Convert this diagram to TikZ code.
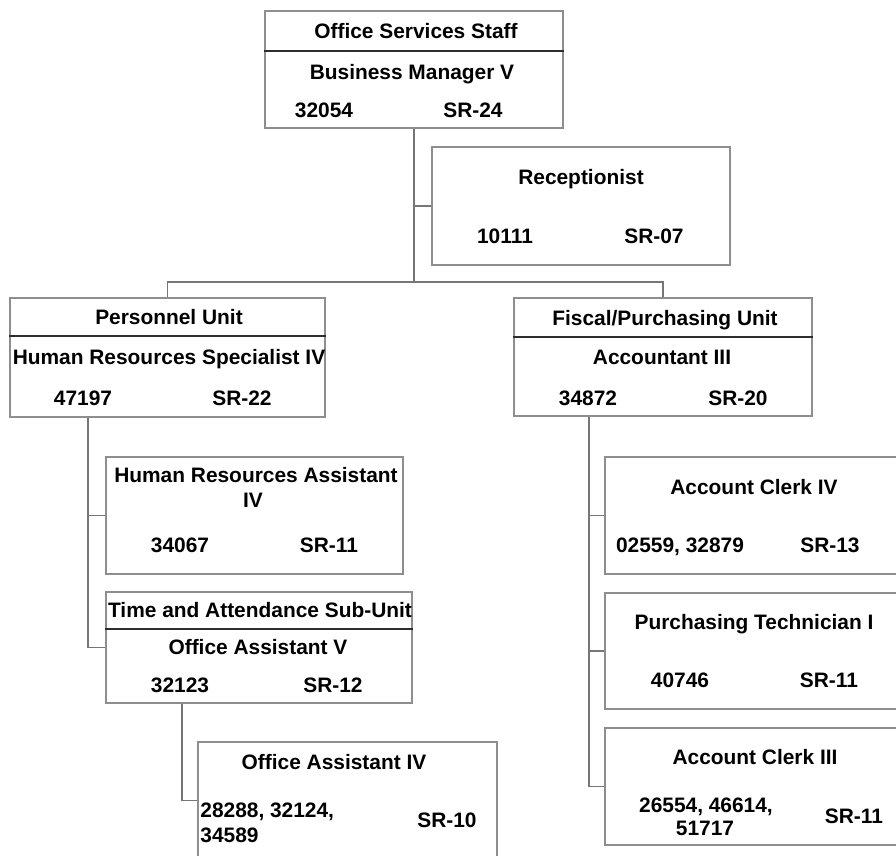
\documentclass[tikz,border=0pt]{standalone}
\usepackage{fontspec}
\setmainfont{Liberation Sans}
\definecolor{box-gray}{HTML}{8E8E8E}
\definecolor{link-gray}{HTML}{767676}
\definecolor{head-dark}{HTML}{2E2E2E}

\begin{document}
\begin{tikzpicture}[x=0.5pt,y=-0.5pt,
		font=\fontsize{10.45}{12.5}\selectfont\bfseries,
		posbox/.style={draw=box-gray,line width=0.6pt,inner sep=0pt,fill=white},
		txt/.style={anchor=base,inner sep=0pt},
		txtl/.style={anchor=base west,inner sep=0pt},
		link/.style={draw=link-gray,line width=0.6pt},
		headline/.style={draw=head-dark,line width=1pt}]
		
		\useasboundingbox (0,0) rectangle (896,856);
		
		%--- BOXES -------------------------------
		
		% Office Services Staff
		\node [posbox,minimum width=149pt,minimum height=58.5pt] (bm) at (414,69.5) {};
		\draw [headline] (bm.west |- 0,51) -- (bm.east |- 0,51);
		
		% Receptionist
		\node [posbox,minimum width=149pt,minimum height=59pt] (rec) at (581,206) {};
		
		% Units
		\node [posbox,minimum width=157.5pt,minimum height=59.5pt] (pers) at (167.5,357.5) {};
		\draw [headline] (pers.west |- 0,336) -- (pers.east |- 0,336);
		\node [posbox,minimum width=149pt,minimum height=59pt] (fisc) at (663,357) {};
		\draw [headline] (fisc.west |- 0,337) -- (fisc.east |- 0,337);
		
		% Personnel side
		\node [posbox,minimum width=148.5pt,minimum height=58.5pt] (hra) at (254.5,515.5) {};
		\node [posbox,minimum width=153pt,minimum height=55.5pt] (tas) at (259,647.5) {};
		\draw [headline] (tas.west |- 0,629) -- (tas.east |- 0,629);
		\node [posbox,minimum width=149.5pt,minimum height=58.5pt] (oa4) at (347.5,800.5) {};
		
		% Fiscal side (cut at the right edge)
		\foreach \nm/\cy/\h in {acl4/515.5/58.5, ptech/651/58, acl3/786.5/58.5}{
			\node [posbox,minimum width=149pt,minimum height=\h pt] (\nm) at (754,\cy) {};
		}
		
		%--- CONNECTORS --------------------------
		
		\coordinate (bus) at (414,282);
		\coordinate (lspine) at (88,0);
		\coordinate (tspine) at (182,0);
		\coordinate (rspine) at (589,0);
		
		\draw [link] (bm.south) -- (bus);
		\draw [link] (bm.south |- rec.west) -- (rec.west);
		\draw [link] (pers.north) |- (bus) -| (fisc.north);
		
		\draw [link] (lspine |- pers.south) |- (tas.west);
		\draw [link] (lspine |- hra.west) -- (hra.west);
		\draw [link] (tspine |- tas.south) |- (oa4.west);
		
		\draw [link] (rspine |- fisc.south) |- (acl3.west);
		\foreach \nm in {acl4,ptech}{
			\draw [link] (rspine |- \nm.west) -- (\nm.west);
		}
		
		%--- TEXTS -------------------------------
		
		% Top
		\node [txt] (bm-head) at (416,38.5) {Office Services Staff};
		\node [txt] (bm-title) at (412,79.5) {Business Manager V};
		\node [txt] (bm-num) at (324,117.5) {32054};
		\node [txt] (bm-sr) at (473,117.5) {SR-24};
		
		\node [txt] (rec-title) at (581,184.5) {Receptionist};
		\node [txt] (rec-num) at (505,243.5) {10111};
		\node [txt] (rec-sr) at (654,243.5) {SR-07};
		
		% Personnel Unit
		\node [txt] (pers-head) at (169,324.5) {Personnel Unit};
		\node [txt] (pers-title) at (169,364.5) {Human Resources Specialist IV};
		\node [txt] (pers-num) at (83,405.5) {47197};
		\node [txt] (pers-sr) at (242,405.5) {SR-22};
		
		\node [txt] (hra-title) at (256,482.5) {Human Resources Assistant};
		\node [txt] (hra-title2) at (253,507.5) {IV};
		\node [txt] (hra-num) at (180,552.5) {34067};
		\node [txt] (hra-sr) at (329,552.5) {SR-11};
		
		\node [txt] (tas-head) at (260,617.5) {Time and Attendance Sub-Unit};
		\node [txt] (tas-title) at (258,654.5) {Office Assistant V};
		\node [txt] (tas-num) at (180,692.5) {32123};
		\node [txt] (tas-sr) at (333,692.5) {SR-12};
		
		\node [txt] (oa4-title) at (334,769.5) {Office Assistant IV};
		\node [txtl] (oa4-num) at (200,817.5) {28288, 32124,};
		\node [txtl] (oa4-num2) at (200,842.5) {34589};
		\node [txt] (oa4-sr) at (447,827.5) {SR-10};
		
		% Fiscal/Purchasing Unit
		\node [txt] (fisc-head) at (665,325.5) {Fiscal/Purchasing Unit};
		\node [txt] (fisc-title) at (662,364.5) {Accountant III};
		\node [txt] (fisc-num) at (588,405.5) {34872};
		\node [txt] (fisc-sr) at (738,405.5) {SR-20};
		
		\node [txt] (acl4-title) at (754,494.5) {Account Clerk IV};
		\node [txt] (acl4-num) at (680,552.5) {02559, 32879};
		\node [txt] (acl4-sr) at (830,552.5) {SR-13};
		
		\node [txt] (ptech-title) at (754,629.5) {Purchasing Technician I};
		\node [txt] (ptech-num) at (680,687.5) {40746};
		\node [txt] (ptech-sr) at (829,687.5) {SR-11};
		
		\node [txt] (acl3-title) at (755,764.5) {Account Clerk III};
		\node [txt] (acl3-num) at (706,812.5) {26554, 46614,};
		\node [txt] (acl3-num2) at (705,835.5) {51717};
		\node [txt] (acl3-sr) at (854,823.5) {SR-11};
		
\end{tikzpicture}
\end{document}
